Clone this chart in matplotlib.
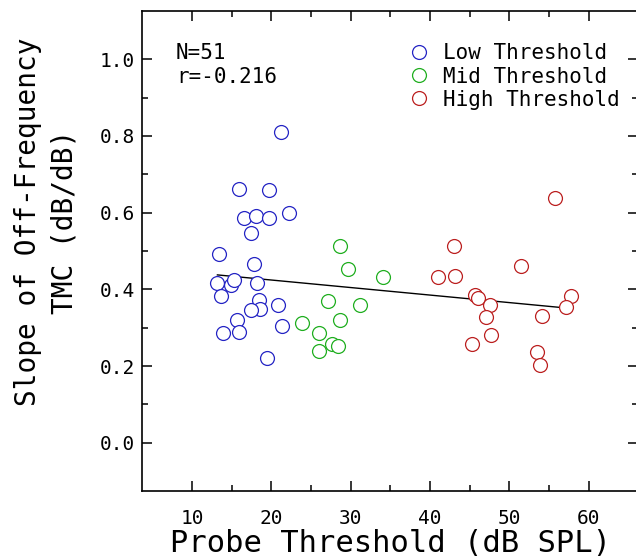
import numpy as np
from matplotlib import pyplot as plt
from matplotlib.ticker import FixedLocator

plt.rcParams['font.family'] = 'DejaVu Sans Mono'

# probe threshold (dB SPL) and slope (dB/dB) per group
low_x = [21.2, 15.9, 19.7, 22.2, 16.6, 18.1, 19.7, 17.4, 13.4, 17.8, 13.2, 14.9,
         15.3, 18.2, 13.7, 18.4, 18.6, 17.4, 20.9, 15.7, 21.4, 13.9, 15.9, 19.5]
low_y = [0.810, 0.662, 0.659, 0.598, 0.585, 0.590, 0.585, 0.547, 0.491, 0.465, 0.417, 0.412,
         0.425, 0.417, 0.383, 0.372, 0.350, 0.345, 0.360, 0.319, 0.305, 0.285, 0.289, 0.221]
mid_x = [28.6, 29.7, 34.1, 27.2, 31.2, 23.8, 28.6, 26.0, 27.7, 28.4, 26.0]
mid_y = [0.514, 0.453, 0.431, 0.369, 0.358, 0.313, 0.321, 0.287, 0.257, 0.252, 0.238]
high_x = [55.7, 43.0, 51.5, 41.0, 43.2, 57.7, 45.6, 46.0, 47.5, 57.1, 54.1, 47.0,
          47.7, 45.3, 53.5, 53.9]
high_y = [0.638, 0.513, 0.462, 0.433, 0.436, 0.383, 0.385, 0.377, 0.360, 0.353, 0.330, 0.327,
          0.281, 0.257, 0.237, 0.202]

all_x = np.array(low_x + mid_x + high_x)
all_y = np.array(low_y + mid_y + high_y)
coef = np.polyfit(all_x, all_y, 1)
fit_x = np.array([all_x.min(), all_x.max()])

fig = plt.figure(figsize=(6.36, 5.6), dpi=100)
ax = fig.add_axes([142/636, 1-490.7/560, 496/636, 479.4/560])

ax.plot(fit_x, np.polyval(coef, fit_x), 'k-', linewidth=1.0, zorder=1)
ms = 10
ax.plot(low_x, low_y, 'o', mfc='white', mec='#2424c4', ms=ms, mew=0.9, label='Low Threshold', zorder=2)
ax.plot(mid_x, mid_y, 'o', mfc='white', mec='#1fae1f', ms=ms, mew=0.9, label='Mid Threshold', zorder=2)
ax.plot(high_x, high_y, 'o', mfc='white', mec='#bb1f1f', ms=ms, mew=0.9, label='High Threshold', zorder=2)

ax.set_xlim(3.7, 66.2)
ax.set_ylim(-0.125, 1.125)
ax.set_xticks([10, 20, 30, 40, 50, 60])
ax.set_yticks([0.0, 0.2, 0.4, 0.6, 0.8, 1.0])
ax.set_yticklabels(['0.0', '0.2', '0.4', '0.6', '0.8', '1.0'])
ax.xaxis.set_minor_locator(FixedLocator([15, 25, 35, 45, 55]))
ax.yaxis.set_minor_locator(FixedLocator([0.1, 0.3, 0.5, 0.7, 0.9]))
ax.tick_params(which='both', direction='in', top=True, right=True, width=1.1)
ax.tick_params(which='major', length=7.5, labelsize=14)
ax.tick_params(which='minor', length=4.5)
ax.tick_params(axis='x', pad=13)
ax.tick_params(axis='y', pad=5)
for s in ax.spines.values():
    s.set_linewidth(1.2)

ax.text(0.0685, 0.913, 'N=51', transform=ax.transAxes, fontsize=15, va='center')
ax.text(0.0685, 0.863, 'r=-0.216', transform=ax.transAxes, fontsize=15, va='center')

ax.legend(loc='upper left', bbox_to_anchor=(0.538, 0.933), frameon=False, fontsize=15,
          handlelength=1.0, handletextpad=0.65, labelspacing=0.15, borderpad=0,
          borderaxespad=0)

fig.text(390/636, 1-544/560, 'Probe Threshold (dB SPL)', fontsize=22, ha='center', va='center')
fig.text(28/636, 1-222/560, 'Slope of Off-Frequency', fontsize=20, rotation=90, ha='center', va='center')
fig.text(64/636, 1-222/560, 'TMC (dB/dB)', fontsize=20, rotation=90, ha='center', va='center')

fig.savefig('out.png', dpi=100)
